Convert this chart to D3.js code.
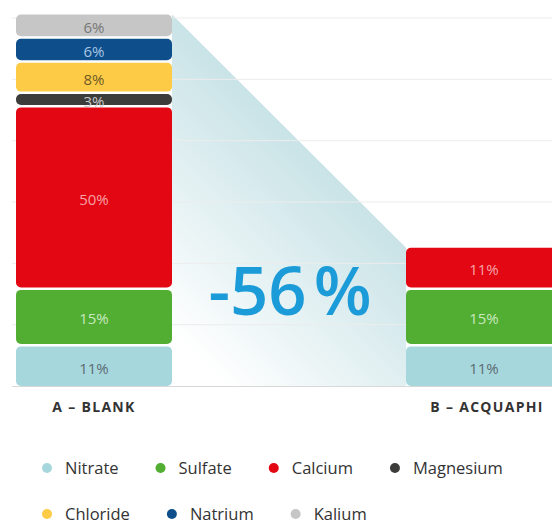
<!DOCTYPE html>
<html>
<head>
<meta charset="utf-8">
<script src="https://cdn.jsdelivr.net/npm/d3@7"></script>
<style>
  body { margin: 0; background: #fff; }
  svg { display: block; font-family: "Open Sans", "Noto Sans", sans-serif; }
</style>
</head>
<body>
<div id="chart"></div>
<script>
// data
var categories = ["A – BLANK", "B – ACQUAPHI"];
var ions = ["Nitrate", "Sulfate", "Calcium", "Magnesium", "Chloride", "Natrium", "Kalium"];
var blankValues = [11, 15, 50, 3, 8, 6, 6];
var acquaphiValues = [11, 15, 11, null, null, null, null];
var reductionLabel = "-56";

var ionColors = ["#a6d7dd", "#52ad33", "#e30613", "#3c3c3b", "#fecb47", "#0e4f8b", "#c6c6c6"];
var labelColors = ["#5d6d72", "#c9e8bf", "#f5a3a6", "#c8c8c8", "#6e5b25", "#a9c5e3", "#777777"];

var width = 552, height = 525;
var baseY = 386, gap = 2.5, k = 3.6;

var svg = d3.select("#chart").append("svg")
  .attr("width", width)
  .attr("height", height);

var x = d3.scaleBand().domain(categories).range([16, 562]).paddingInner(0.6).paddingOuter(0);
var y = d3.scaleLinear().domain([0, 100]).range([baseY, baseY - 100 * k]);
var grid = d3.scaleLinear().domain([0, 6]).range([baseY, 18]);

// stack each bar, leaving a small gap between pieces
function stackUp(vals, cat) {
  var out = [], cum = 0, n = 0;
  vals.forEach(function(v, i) {
    if (v == null) return;
    var bottom = y(cum) - n * gap;
    var top = y(cum + v) - n * gap;
    out.push({cat: cat, i: i, v: v, y0: bottom, y1: top});
    cum += v; n++;
  });
  return out;
}
var stacks = [stackUp(blankValues, categories[0]), stackUp(acquaphiValues, categories[1])];

// shaded wedge between the two bars
var defs = svg.append("defs");
var topA = d3.min(stacks[0], function(d) { return d.y1; });
var topB = d3.min(stacks[1], function(d) { return d.y1; });
var xa = x(categories[0]) + x.bandwidth(), xb = x(categories[1]);
var mx = (xa + xb) / 2, my = (topA + topB) / 2;
var grad = defs.append("linearGradient").attr("id", "wedge")
  .attr("gradientUnits", "userSpaceOnUse")
  .attr("x1", mx).attr("y1", my)
  .attr("x2", mx - 160).attr("y2", my + 160);
grad.append("stop").attr("offset", 0).attr("stop-color", "#c9e3e7");
grad.append("stop").attr("offset", 1).attr("stop-color", "#ffffff");

svg.append("path")
  .attr("d", "M" + xa + "," + topA + "L" + xb + "," + topB + "L" + xb + "," + baseY + "L" + xa + "," + baseY + "Z")
  .attr("fill", "url(#wedge)");

// gridlines
svg.append("g").selectAll("line")
  .data(grid.ticks(6).slice(1))
  .enter().append("line")
  .attr("x1", 12).attr("x2", width)
  .attr("y1", function(d) { return grid(d); })
  .attr("y2", function(d) { return grid(d); })
  .attr("stroke", "#ececec")
  .attr("stroke-width", 1);

// big reduction number
var big = svg.append("text")
  .attr("x", 290).attr("y", 315)
  .attr("text-anchor", "middle")
  .attr("fill", "#1b9bd7")
  .attr("font-size", 67)
  .attr("font-weight", 600)
  .text(reductionLabel);
big.append("tspan").attr("dx", 7).text("%");

// bars, drawn top piece first so lower pieces overlap the labels above
stacks.forEach(function(st) {
  var g = svg.append("g");
  var seg = g.selectAll("g").data(st.slice().reverse()).enter().append("g");
  seg.append("rect")
    .attr("x", function(d) { return x(d.cat); })
    .attr("y", function(d) { return d.y1; })
    .attr("width", x.bandwidth())
    .attr("height", function(d) { return d.y0 - d.y1; })
    .attr("rx", 5)
    .attr("fill", function(d) { return ionColors[d.i]; });
  seg.append("text")
    .attr("x", function(d) { return x(d.cat) + x.bandwidth() / 2; })
    .attr("y", function(d) { return (d.y0 + d.y1) / 2 + 1.5; })
    .attr("text-anchor", "middle")
    .attr("dominant-baseline", "central")
    .attr("font-size", 15)
    .attr("fill", function(d) { return labelColors[d.i]; })
    .text(function(d) { return d.v + "%"; });
});

// baseline
svg.append("line")
  .attr("x1", 12).attr("x2", width)
  .attr("y1", baseY + 0.5).attr("y2", baseY + 0.5)
  .attr("stroke", "#d8d8d8");

// category labels
svg.append("g").selectAll("text")
  .data(categories)
  .enter().append("text")
  .attr("x", function(d, i) { return x(d) + x.bandwidth() / 2 + i * 3; })
  .attr("y", 412)
  .attr("text-anchor", "middle")
  .attr("font-size", 14)
  .attr("font-weight", 700)
  .attr("letter-spacing", 1.3)
  .attr("fill", "#333")
  .text(function(d) { return d; });

// legend, 4 on the first row and 3 on the second
var rows = [ions.slice(0, 4), ions.slice(4)];
rows.forEach(function(row, r) {
  var cx = 47, base = 474 + r * 46;
  row.forEach(function(name) {
    var i = ions.indexOf(name);
    svg.append("circle")
      .attr("cx", cx).attr("cy", base - 6).attr("r", 5)
      .attr("fill", ionColors[i]);
    var t = svg.append("text")
      .attr("x", cx + 18).attr("y", base)
      .attr("font-size", 16.5)
      .attr("fill", "#333")
      .text(name);
    cx += 18 + t.node().getComputedTextLength() + 42;
  });
});
</script>
</body>
</html>
